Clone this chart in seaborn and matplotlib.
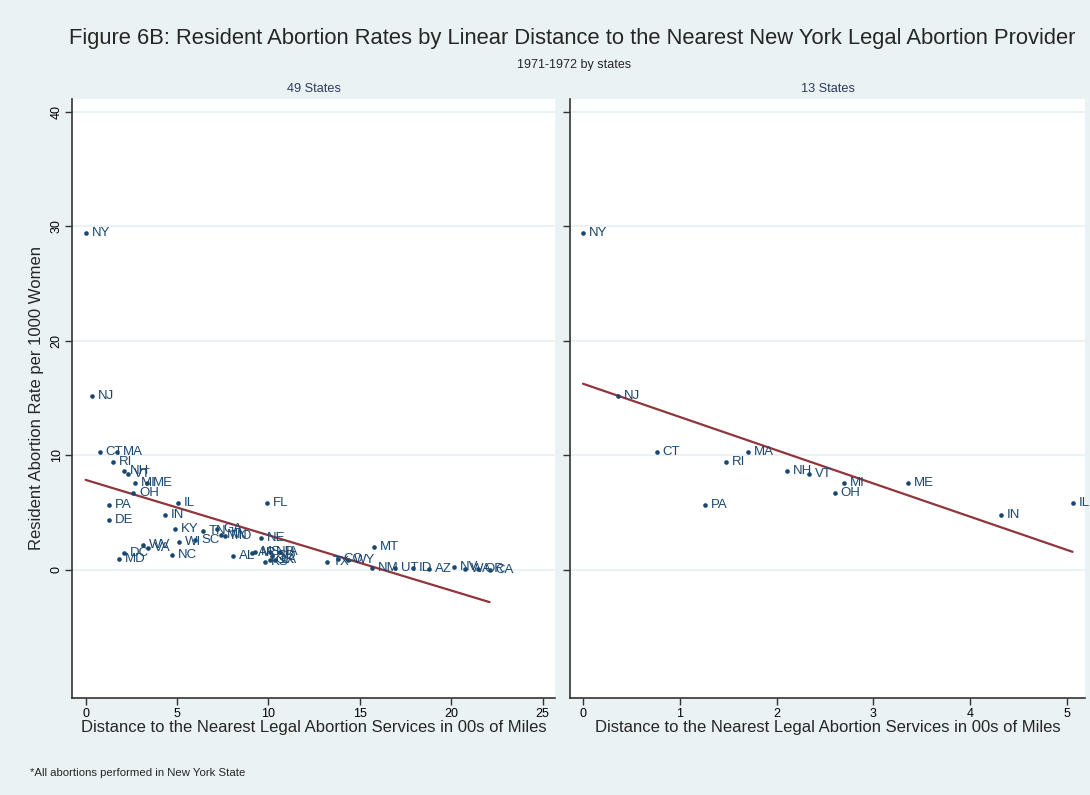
import matplotlib
matplotlib.use("Agg")
import matplotlib.pyplot as plt
import seaborn as sns
import pandas as pd

# Resident abortion rates (per 1000 women) and distance to the nearest
# legal provider (hundreds of miles), 1971-1972
states = ["NY", "NJ", "CT", "MA", "RI", "NH", "VT", "MI", "ME", "OH", "PA", "DE",
          "IL", "IN", "KY", "WI", "SC", "WV", "VA", "DC", "MD", "NC", "TN", "GA",
          "MN", "MO", "FL", "NE", "AL", "AR", "MS", "ND", "IA", "KS", "OK", "LA",
          "SD", "TX", "CO", "WY", "MT", "NM", "UT", "ID", "AZ", "NV", "WA", "OR",
          "CA"]
distance = [0.00, 0.36, 0.76, 1.71, 1.48, 2.11, 2.34, 2.70, 3.36, 2.60, 1.26, 1.26,
            5.06, 4.32, 4.87, 5.12, 5.99, 3.12, 3.42, 2.08, 1.84, 4.72, 6.43, 7.20,
            7.40, 7.62, 9.91, 9.60, 8.07, 9.11, 9.29, 10.08, 10.62, 9.79, 10.08, 10.35,
            10.17, 13.18, 13.80, 14.36, 15.76, 15.67, 16.91, 17.91, 18.79, 20.14, 20.74, 21.47,
            22.10]
rate = [29.37, 15.15, 10.26, 10.26, 9.44, 8.65, 8.37, 7.61, 7.61, 6.68, 5.69, 4.34,
        5.86, 4.76, 3.58, 2.42, 2.59, 2.12, 1.90, 1.42, 0.93, 1.28, 3.34, 3.55,
        3.00, 2.91, 5.83, 2.79, 1.22, 1.42, 1.55, 1.57, 1.55, 0.70, 0.87, 0.81,
        1.16, 0.67, 0.93, 0.87, 1.95, 0.17, 0.11, 0.11, 0.09, 0.26, 0.03, 0.03,
        0.00]
thirteen = ["NY", "NJ", "CT", "MA", "RI", "NH", "VT", "MI", "ME", "OH", "PA", "IN", "IL"]

panel_titles = ["49 States", "13 States"]
y_ticks = [0, 10, 20, 30, 40]
left_x_ticks = [0, 5, 10, 15, 20, 25]
right_x_ticks = [0, 1, 2, 3, 4, 5]

df = pd.DataFrame({"state": states, "distance": distance, "rate": rate})
df13 = df[df["state"].isin(thirteen)].reset_index(drop=True)

BG = "#EAF2F3"
NAVY = "#1A476F"
MAROON = "#90353B"
AXIS = "#333333"

sns.set_style("ticks")
plt.rcParams["font.family"] = ["Liberation Sans", "DejaVu Sans"]

fig = plt.figure(figsize=(10.9, 7.95), dpi=100, facecolor=BG)
ax1 = fig.add_axes([0.0665, 0.122, 0.4427, 0.7535])
ax2 = fig.add_axes([0.523, 0.122, 0.4725, 0.7535])

panels = [(ax1, df, (-0.72, 25.68), left_x_ticks),
          (ax2, df13, (-0.134, 5.19), right_x_ticks)]

for i, (ax, data, xlim, xticks) in enumerate(panels):
    ax.set_facecolor("white")
    sns.regplot(data=data, x="distance", y="rate", ax=ax, ci=None, scatter=False,
                truncate=True, line_kws={"color": MAROON, "lw": 1.6, "zorder": 2})
    sns.scatterplot(data=data, x="distance", y="rate", ax=ax, color=NAVY, s=11,
                    edgecolor=NAVY, linewidth=0, zorder=3, legend=False)
    for _, row in data.iterrows():
        ax.annotate(row["state"], (row["distance"], row["rate"]), xytext=(4.2, 0),
                    textcoords="offset points", va="center", ha="left",
                    fontsize=9.5, color=NAVY, zorder=4, annotation_clip=False)

    ax.set_xlim(*xlim)
    ax.set_ylim(-11.2, 41.1)
    ax.set_xticks(xticks)
    ax.set_yticks(y_ticks)
    ax.grid(axis="y", color=BG, lw=1.4)
    ax.grid(axis="x", visible=False)
    ax.set_axisbelow(True)
    for side in ["top", "right"]:
        ax.spines[side].set_visible(False)
    for side in ["left", "bottom"]:
        ax.spines[side].set_color(AXIS)
        ax.spines[side].set_linewidth(1.2)
    ax.tick_params(direction="out", length=5, width=1, color=AXIS,
                   labelsize=9, pad=2, labelcolor="black")
    ax.set_xlabel("Distance to the Nearest Legal Abortion Services in 00s of Miles",
                  fontsize=12, labelpad=0)
    ax.set_ylabel("")
    for lab in ax.get_yticklabels():
        lab.set_rotation(90)
        lab.set_va("center")
    pos = ax.get_position()
    fig.text((pos.x0 + pos.x1) / 2, 0.888, panel_titles[i], ha="center",
             va="center", fontsize=9.2, color="#2E3A5C")

ax2.tick_params(labelleft=False)
ax1.set_ylabel("Resident Abortion Rate per 1000 Women", fontsize=12, labelpad=5)

fig.text(0.525, 0.952,
         "Figure 6B: Resident Abortion Rates by Linear Distance to the Nearest New York Legal Abortion Provider",
         ha="center", va="center", fontsize=15.8)
fig.text(0.527, 0.918, "1971-1972 by states", ha="center", va="center", fontsize=9)
fig.text(0.0275, 0.028, "*All abortions performed in New York State",
         ha="left", va="center", fontsize=8.2)

fig.savefig("out.png", dpi=100, facecolor=BG)
